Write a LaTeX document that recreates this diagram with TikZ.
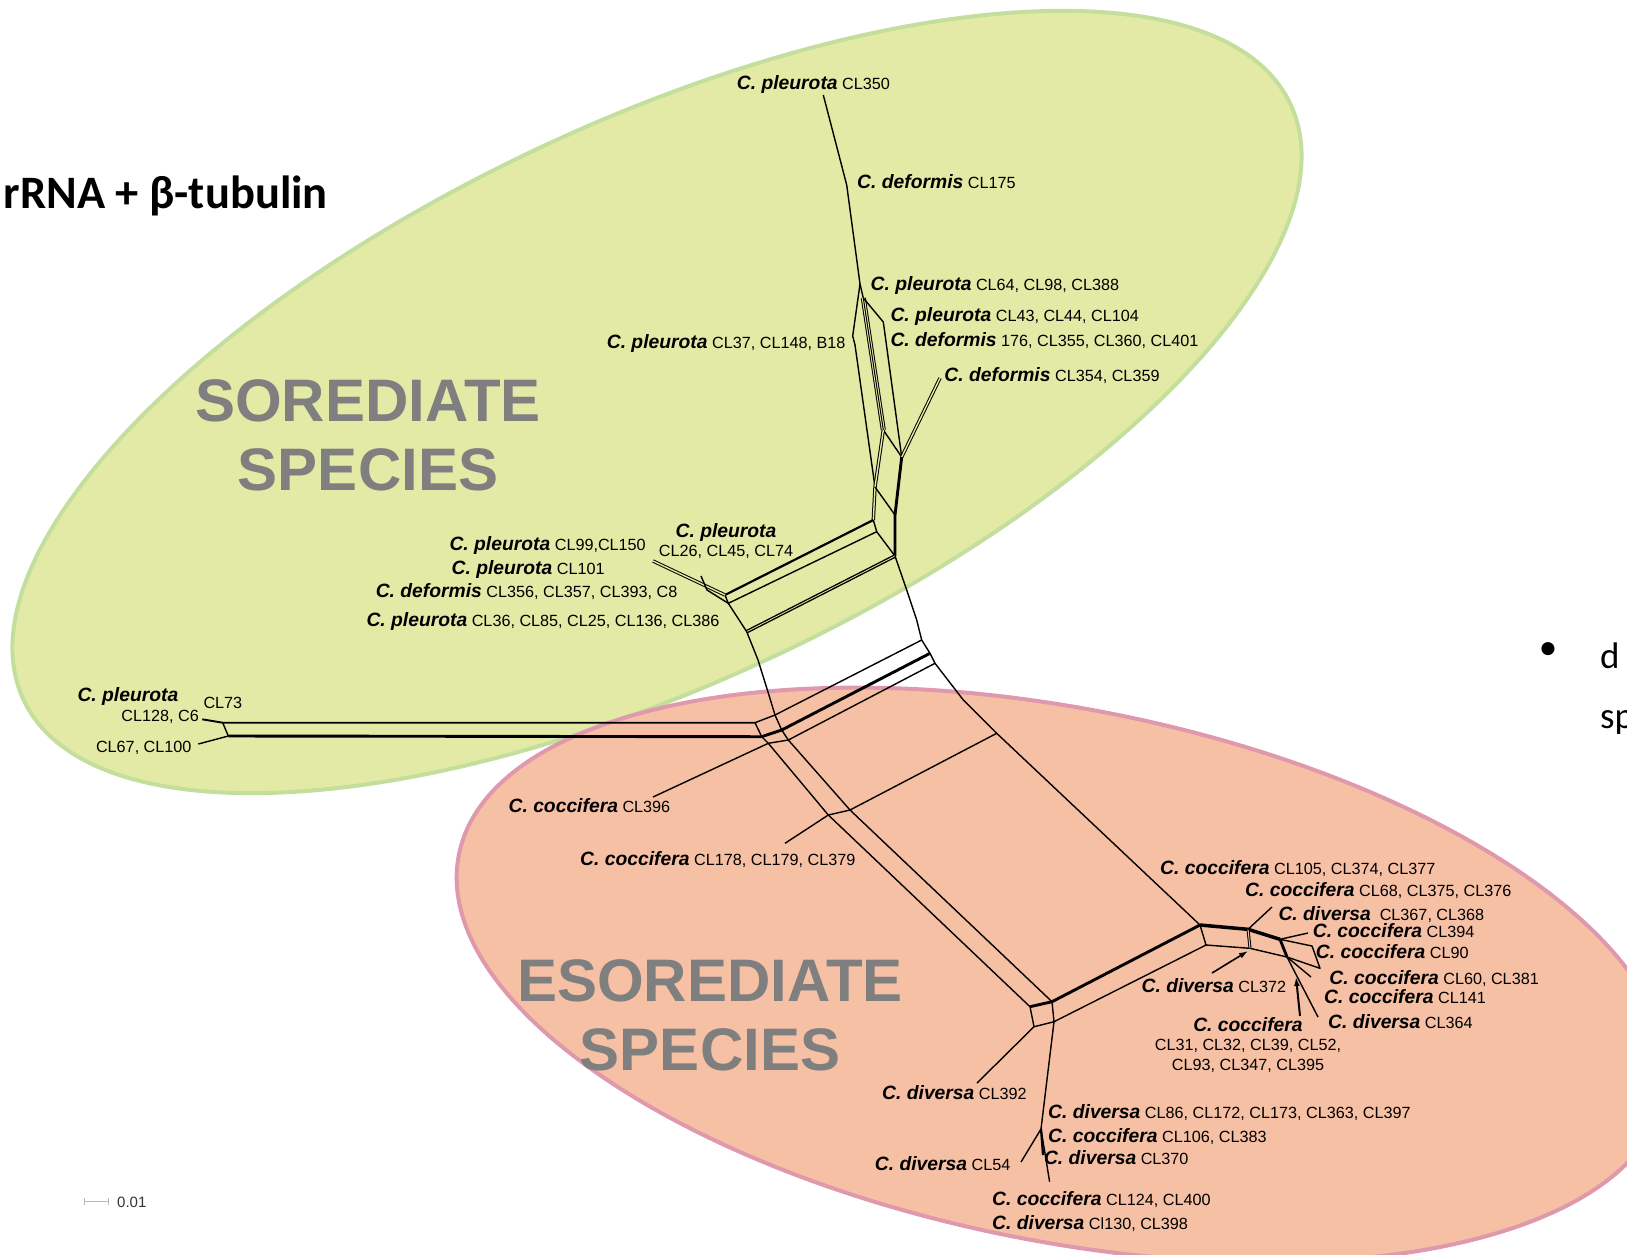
\documentclass[tikz,border=0pt]{standalone}
\usepackage{fontspec}
\setmainfont{Liberation Sans}
\newfontfamily\calibrifont{Carlito}
\usetikzlibrary{arrows.meta}

\definecolor{soredfill}{RGB}{227,234,166}
\definecolor{soredline}{RGB}{196,222,158}
\definecolor{esorfill}{RGB}{246,192,165}
\definecolor{esorline}{RGB}{223,152,172}
\definecolor{grouptext}{RGB}{127,127,127}
\definecolor{scalegray}{RGB}{185,185,185}

\newcommand{\taxa}[1]{{\fontsize{19.3}{22}\selectfont\bfseries\itshape #1}}

\tikzset{
  lbl/.style={anchor=base west, inner sep=0pt, font=\fontsize{16.2}{19.5}\selectfont},
  lble/.style={lbl, anchor=base east},
  grplabel/.style={font=\fontsize{60}{69}\selectfont\bfseries, text=grouptext, align=center, inner sep=0pt},
  netline/.style={line width=1.4pt, line join=round},
  netthick/.style={line width=2.9pt, line join=round},
  netdouble/.style={line width=1pt, double=soredfill, double distance=1.4pt, line join=round},
}

\begin{document}
\begin{tikzpicture}[x=1pt,y=-1pt]
	\useasboundingbox (0,0) rectangle (1627,1254);
	\clip (0,0) rectangle (1627,1254);

	% Group ellipses
	\draw[soredline, fill=soredfill, line width=4pt, rotate around={25.2:(657,402)}] (657,402) ellipse [x radius=700, y radius=280];
	\draw[esorline, fill=esorfill, line width=4pt, rotate around={-11.3:(1062,975)}] (1062,975) ellipse [x radius=615, y radius=266];

	% Text Node
	\node[grplabel] (soredgrp) at (368,435) {SOREDIATE\\SPECIES};
	% Text Node
	\node[grplabel] (esorgrp) at (710,1015) {ESOREDIATE\\SPECIES};
	% Text Node
	\node[anchor=base east, inner sep=0pt, font=\calibrifont\fontsize{46.5}{56}\selectfont\bfseries] (title) at (328,208.5) {rRNA + β-tubulin};
	% Text Node
	\node[inner sep=0pt, font=\calibrifont\fontsize{37}{44}\selectfont] (bulletdot) at (1548,651) {•};
	\node[anchor=base west, inner sep=0pt, font=\calibrifont\fontsize{37}{44}\selectfont] (bulletd) at (1600,668) {d};
	\node[anchor=base west, inner sep=0pt, font=\calibrifont\fontsize{37}{44}\selectfont] (bulletsp) at (1600,728) {sp};

	% Network points
	\coordinate (t350) at (823.3,95);
	\coordinate (t175) at (846.7,185);
	\coordinate (tJ) at (860,284);
	\coordinate (tK) at (863.3,298);
	\coordinate (tL1a) at (852.7,336);
	\coordinate (tL1b) at (855,345);
	\coordinate (tM) at (883.3,322);
	\coordinate (tB) at (883.3,430);
	\coordinate (tD) at (875,487);
	\coordinate (tE) at (873.3,520);
	\coordinate (tE2) at (876.7,531.7);
	\coordinate (tF) at (901.7,457);
	\coordinate (t354) at (940,378);
	\coordinate (tH) at (895,515);
	\coordinate (tI) at (895,556);
	\coordinate (hL) at (725,595);
	\coordinate (hL2) at (728.3,603.3);
	\coordinate (hM) at (746.7,631.7);
	\coordinate (l99) at (653,561);
	\coordinate (l26a) at (701,576);
	\coordinate (l26b) at (707,590);
	\coordinate (r1) at (906.7,590);
	\coordinate (r2) at (916.7,620);
	\coordinate (rA) at (921.7,640);
	\coordinate (rB) at (930,653.3);
	\coordinate (rC) at (935,663.3);
	\coordinate (rD) at (963.3,700);
	\coordinate (rE) at (996.7,733.3);
	\coordinate (q1) at (758,660);
	\coordinate (q2) at (768,692);
	\coordinate (qA) at (775,715);
	\coordinate (qB) at (781.7,730);
	\coordinate (qC) at (788.3,740);
	\coordinate (l128) at (202.3,719.3);
	\coordinate (l67) at (198.3,744);
	\coordinate (cl73a) at (222.7,722.7);
	\coordinate (cl73b) at (228.3,736);
	\coordinate (pA) at (755,722.7);
	\coordinate (pB) at (761.7,736.7);
	\coordinate (pC) at (768.3,743.3);
	\coordinate (dA) at (828.3,815);
	\coordinate (dB) at (850,810);
	\coordinate (l396) at (653,797);
	\coordinate (l178) at (785,843.3);
	\coordinate (sqA) at (1030,1006.7);
	\coordinate (sqB) at (1052,1001.7);
	\coordinate (sqC) at (1054,1021.7);
	\coordinate (sqD) at (1034,1026.7);
	\coordinate (cJ) at (1200,925);
	\coordinate (cJ2) at (1206,945);
	\coordinate (l392) at (977,1083);
	\coordinate (bK) at (1041,1129);
	\coordinate (l124) at (1049.6,1181.7);
	\coordinate (l54) at (1021,1162);
	\coordinate (l370) at (1043,1155);
	\coordinate (c1) at (1248,929.3);
	\coordinate (c2) at (1280,939.3);
	\coordinate (c3) at (1287,957);
	\coordinate (c4) at (1250,948.3);
	\coordinate (c5) at (1312,946);
	\coordinate (c6) at (1320,968.3);
	\coordinate (l394) at (1308,933);
	\coordinate (l367) at (1272,907);
	\coordinate (l60) at (1311,977);
	\coordinate (l364) at (1318,1017);
	\coordinate (a372s) at (1212,973);
	\coordinate (a372e) at (1248,951);
	\coordinate (a31s) at (1300,1016);
	\coordinate (a31e) at (1296,977);
	\coordinate (sb0) at (84,1201.5);
	\coordinate (sb1) at (109,1201.5);

	% Connection
	\draw[netline] (t350) -- (t175) -- (tJ);
	% Connection
	\draw[netline] (tJ) -- (tL1a) -- (tL1b) -- (tD);
	% Connection
	\draw[netline] (tJ) -- (tK);
	% Connection
	\draw[line width=1pt, double=soredfill, double distance=3pt] (tK) -- (tB);
	\draw[line width=1pt] (tK) -- (tB);
	% Connection
	\draw[netline] (tK) -- (tM) -- (tF);
	% Connection
	\draw[netline] (tB) -- (tF);
	% Connection
	\draw[netdouble] (tB) -- (tD) -- (tE);
	% Connection
	\draw[netline] (tD) -- (tH);
	% Connection
	\draw[netdouble] (t354) -- (tF);
	% Connection
	\draw[netthick] (tF) -- (tH) -- (tI);
	% Connection
	\draw[netline] (tE) -- (tE2) -- (tI);
	% Connection
	\draw[netline, line width=2.2pt] (tE) -- (hL);
	% Connection
	\draw[netline] (tE2) -- (hL2);
	% Connection
	\draw[line width=1.4pt, double=soredfill, double distance=0.8pt] (tI) -- (hM);
	% Connection
	\draw[netline] (hL) -- (hL2) -- (hM) -- (q1) -- (q2) -- (qA) -- (qB) -- (qC);
	% Connection
	\draw[netdouble] (l99) -- (hL);
	% Connection
	\draw[netline] (l26a) -- (l26b) -- (hL2);
	% Connection
	\draw[netline] (tI) -- (r1) -- (r2) -- (rA) -- (rB) -- (rC) -- (rD) -- (rE) -- (cJ);
	% Connection
	\draw[netline] (rA) -- (qA);
	\draw[netthick] (rB) -- (qB);
	\draw[netline] (rC) -- (qC);
	% Connection
	\draw[netline, line width=1.9pt] (l128) -- (cl73a) -- (pA);
	\draw[netline] (cl73a) -- (cl73b);
	\draw[netthick] (cl73b) -- (pB);
	\draw[netline] (l67) -- (cl73b);
	% Connection
	\draw[netline] (pA) -- (qA);
	\draw[netline] (pA) -- (pB) -- (pC) -- (qC);
	\draw[netthick] (pB) -- (qB);
	% Connection
	\draw[netline] (pC) -- (dA) -- (sqA);
	\draw[netline] (qC) -- (dB) -- (sqB);
	\draw[netline] (dA) -- (dB) -- (rE);
	% Connection
	\draw[netline] (pC) -- (l396);
	\draw[netline] (dA) -- (l178);
	% Connection
	\draw[netline] (sqA) -- (sqD) -- (sqC) -- (sqB);
	\draw[netthick] (cJ) -- (sqB) -- (sqA);
	\draw[netline] (cJ) -- (cJ2) -- (sqC);
	% Connection
	\draw[netline] (sqD) -- (l392);
	\draw[netline] (sqC) -- (bK) -- (l124);
	\draw[netline] (bK) -- (l54);
	\draw[netline, line width=2.2pt] (bK) -- (l370);
	% Connection
	\draw[netthick, line width=3.5pt] (cJ) -- (c1) -- (c2);
	\draw[netthick] (c2) -- (c3);
	\draw[netline] (cJ2) -- (c4) -- (c3);
	\draw[line width=1pt, double=esorfill, double distance=1pt] (c1) -- (c4);
	\draw[netline] (c2) -- (c5) -- (c6) -- (c3);
	\draw[netline] (c2) -- (l394);
	\draw[netline] (c1) -- (l367);
	\draw[netline] (c3) -- (l60);
	\draw[netline] (c3) -- (l364);
	% Connection
	\draw[netline, line width=1.6pt, -{Latex[length=9pt,width=6pt]}] (a372s) -- (a372e);
	\draw[netline, line width=2pt, -{Latex[length=9pt,width=6pt]}] (a31s) -- (a31e);
	% Scale bar
	\draw[scalegray, line width=1.2pt, {Bar[width=7pt]}-{Bar[width=7pt]}] (sb0) -- (sb1);

	% Text Node
	\node[lbl] (n350) at (736.7,89) {\taxa{C. pleurota} CL350};
	\node[lbl] (n175) at (857,188.6) {\taxa{C. deformis} CL175};
	\node[lbl] (n64) at (870.5,290.3) {\taxa{C. pleurota} CL64, CL98, CL388};
	\node[lbl] (n43) at (890.3,321.4) {\taxa{C. pleurota} CL43, CL44, CL104};
	\node[lbl] (n176) at (890.3,346.3) {\taxa{C. deformis} 176, CL355, CL360, CL401};
	\node[lble] (n37) at (845.6,348.4) {\taxa{C. pleurota} CL37, CL148, B18};
	\node[lbl] (n354) at (944.2,381.6) {\taxa{C. deformis} CL354, CL359};
	\node[lbl, anchor=north, align=center] (n26) at (726,523.1) {\taxa{C. pleurota}\\CL26, CL45, CL74};
	\node[lbl] (n99) at (449.3,550.7) {\taxa{C. pleurota} CL99,CL150};
	\node[lbl] (n101) at (451.4,574.6) {\taxa{C. pleurota} CL101};
	\node[lbl] (n356) at (375.6,597.4) {\taxa{C. deformis} CL356, CL357, CL393, C8};
	\node[lbl] (n36) at (366.3,626.4) {\taxa{C. pleurota} CL36, CL85, CL25, CL136, CL386};
	% Text Node
	\node[lbl] (n73sp) at (77.3,701.3) {\taxa{C. pleurota}};
	\node[lble] (n128) at (199,721.8) {CL128, C6};
	\node[lbl] (n73) at (203.3,708.5) {CL73};
	\node[lble] (n67) at (191.7,752.5) {CL67, CL100};
	% Text Node
	\node[lbl] (n396) at (508.4,812.2) {\taxa{C. coccifera} CL396};
	\node[lbl] (n178) at (580,865) {\taxa{C. coccifera} CL178, CL179, CL379};
	\node[lbl] (n105) at (1160,874.4) {\taxa{C. coccifera} CL105, CL374, CL377};
	\node[lbl] (n68) at (1245,896.2) {\taxa{C. coccifera} CL68, CL375, CL376};
	\node[lbl] (n367) at (1278.3,920) {\taxa{C. diversa}\ \ CL367, CL368};
	\node[lbl] (n394) at (1312.6,937.7) {\taxa{C. coccifera} CL394};
	\node[lbl] (n90) at (1315.7,958.5) {\taxa{C. coccifera} CL90};
	\node[lbl] (n60) at (1329.2,984.4) {\taxa{C. coccifera} CL60, CL381};
	\node[lbl] (n141) at (1324,1003) {\taxa{C. coccifera} CL141};
	\node[lbl] (n364) at (1328,1028) {\taxa{C. diversa} CL364};
	\node[lbl] (n372) at (1141.4,992.7) {\taxa{C. diversa} CL372};
	\node[lbl, anchor=north, align=center] (n31) at (1248,1016.8) {\taxa{C. coccifera}\\CL31, CL32, CL39, CL52,\\CL93, CL347, CL395};
	% Text Node
	\node[lbl] (n392) at (882,1099.6) {\taxa{C. diversa} CL392};
	\node[lbl] (n86) at (1048,1118.3) {\taxa{C. diversa} CL86, CL172, CL173, CL363, CL397};
	\node[lbl] (n106) at (1048,1142.1) {\taxa{C. coccifera} CL106, CL383};
	\node[lbl] (n370) at (1043.8,1164) {\taxa{C. diversa} CL370};
	\node[lbl] (n54) at (874.7,1170.2) {\taxa{C. diversa} CL54};
	\node[lbl] (n124) at (992,1205.4) {\taxa{C. coccifera} CL124, CL400};
	\node[lbl] (n130) at (992,1229.3) {\taxa{C. diversa} Cl130, CL398};
	% Text Node
	\node[lbl, font=\fontsize{15}{18}\selectfont, text=black!80] (sblabel) at (117,1207) {0.01};

\end{tikzpicture}
\end{document}
